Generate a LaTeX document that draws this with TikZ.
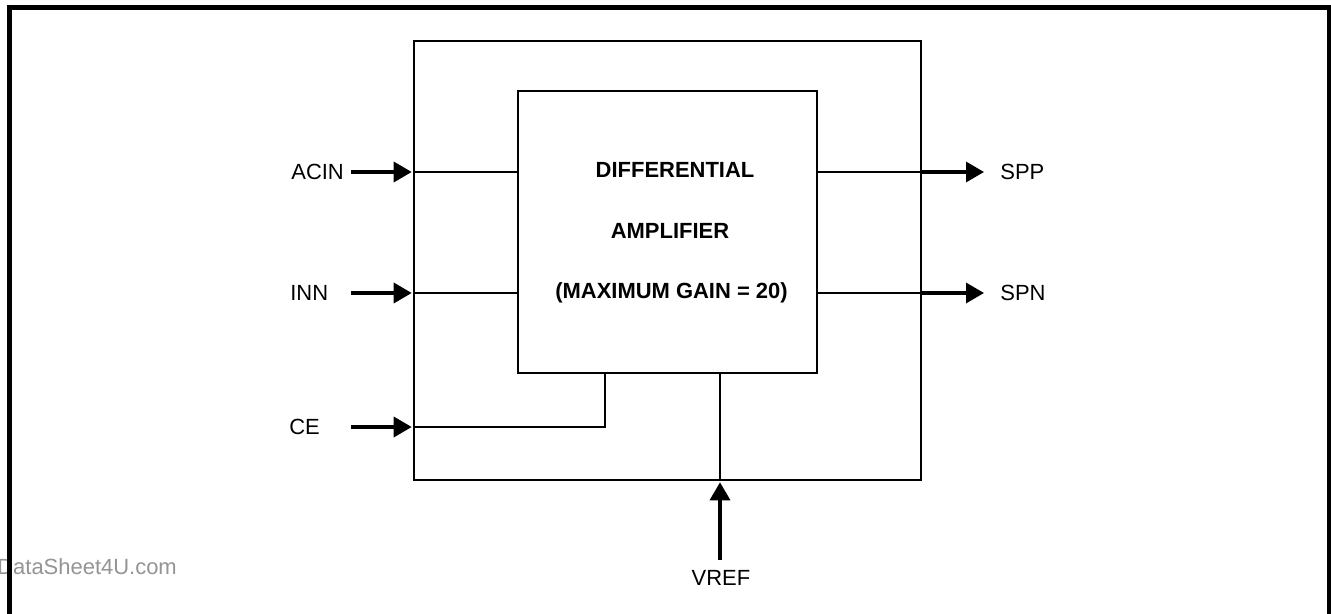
\documentclass[tikz,border=0pt]{standalone}
\usepackage{fontspec}
\setmainfont{Liberation Sans}
\usetikzlibrary{arrows.meta}

\begin{document}
\begin{tikzpicture}[x = 0.02cm, y = -0.02cm,
  every node/.style = {font = \fontsize{12.5}{15}\selectfont},
  blk/.style = {draw, line width = 0.65pt, inner sep = 0pt},
  wire/.style = {line width = 0.6pt},
  pin/.style = {line width = 1.9pt, -{Triangle[length = 0.36cm, width = 0.4cm]}},
  lbl/.style = {anchor = west, inner sep = 0pt},
  title/.style = {font = \fontsize{12.5}{15}\selectfont\bfseries}]
\useasboundingbox (0, 0) rectangle (1331, 614);
\node[lbl, text = black!42] (mark) at (-3, 567) {DataSheet4U.com};
\draw[line width = 3pt] (9.5, 614) -- (9.5, 7.5) -- (1329.5, 7.5) -- (1329.5, 614);
% blocks
\node[blk, minimum width = 10.14cm, minimum height = 8.78cm] (chip) at (667.5, 260.5) {};
\node[blk, minimum width = 5.98cm, minimum height = 5.64cm] (amp) at (667.5, 232) {};
\node[title] (t1) at (675, 170) {DIFFERENTIAL};
\node[title] (t2) at (670, 231) {AMPLIFIER};
\node[title] (t3) at (671.5, 293) {(MAXIMUM GAIN = 20)};
% inputs
\node[lbl] (acin) at (291, 172) {ACIN};
\node[lbl] (inn) at (290, 293) {INN};
\node[lbl] (ce) at (289, 427) {CE};
\coordinate (acin-s) at (351, 172);
\coordinate (inn-s) at (351, 293);
\coordinate (ce-s) at (351, 427);
\draw[pin] (acin-s) -- ([xshift = -1pt]chip.west |- acin-s);
\draw[pin] (inn-s) -- ([xshift = -1pt]chip.west |- inn-s);
\draw[pin] (ce-s) -- ([xshift = -1pt]chip.west |- ce-s);
\draw[wire] (chip.west |- acin-s) -- (amp.west |- acin-s);
\draw[wire] (chip.west |- inn-s) -- (amp.west |- inn-s);
\draw[wire] (chip.west |- ce-s) -| ([xshift = -1.25cm]amp.south);
% outputs
\node[lbl] (spp) at (1000, 172) {SPP};
\node[lbl] (spn) at (1000, 293) {SPN};
\coordinate (spp-e) at (984, 172);
\coordinate (spn-e) at (984, 293);
\draw[wire] (amp.east |- spp-e) -- (chip.east |- spp-e);
\draw[wire] (amp.east |- spn-e) -- (chip.east |- spn-e);
\draw[pin] (chip.east |- spp-e) -- (spp-e);
\draw[pin] (chip.east |- spn-e) -- (spn-e);
% reference
\node (vref) at (721, 578) {VREF};
\coordinate (vref-s) at (720, 560);
\draw[wire] ([xshift = 1.05cm]amp.south) -- ([xshift = 1.05cm]amp.south |- chip.south);
\draw[pin] (vref-s) -- ([yshift = -1pt]chip.south -| vref-s);
\end{tikzpicture}
\end{document}
